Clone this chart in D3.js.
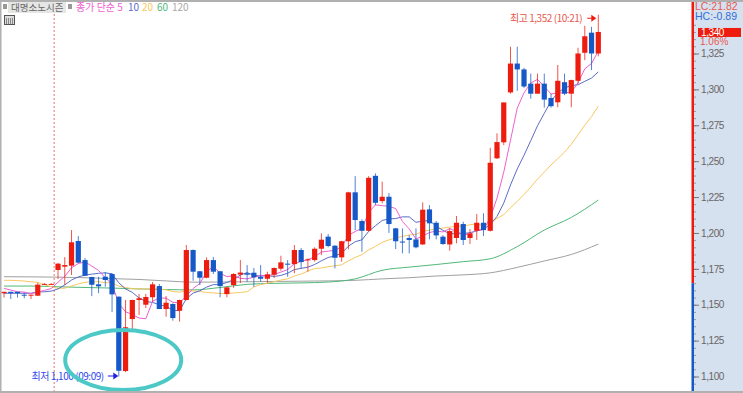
<!DOCTYPE html>
<html>
<head>
<meta charset="utf-8">
<style>
    html, body { margin: 0; padding: 0; background: #fff; }
    svg { display: block; }
    text { font-family: "Noto Sans CJK KR", "Noto Sans", sans-serif; }
    .axis text, text.axis { font-family: "Liberation Sans", sans-serif; }
</style>
<script src="https://cdn.jsdelivr.net/npm/d3@7"></script>
</head>
<body>
<svg id="chart" width="743" height="393"></svg>
<script>
let candleOpen = [1158,1159,1159,1157,1156.5,1156.3,1164,1164,1174.2,1176.5,1177.2,1194.4,1181.1,1169.3,1164.2,1169.5,1171.4,1155.6,1103.8,1140,1153.3,1150,1155.2,1163,1147,1150.5,1145.8,1153.3,1188.1,1173.3,1168.8,1181.1,1173.3,1157.4,1163.7,1171,1171.9,1172.3,1169.5,1168.1,1170.9,1175.1,1178.6,1178.3,1188.1,1180.9,1181.1,1189,1197.4,1191.1,1183,1194.2,1228.3,1208.3,1201.5,1239.8,1222.2,1225.2,1203.2,1194,1196.5,1195.5,1192,1216.4,1207.1,1197.4,1192,1196.5,1206.2,1196.5,1201.5,1207.1,1201.5,1252,1263.1,1297.9,1318,1313.9,1304,1297,1304,1294,1291,1305,1297,1306,1325.5,1339.5,1325]
let candleClose = [1159,1158,1158,1156.5,1157,1164,1164.5,1164.5,1178.6,1177.6,1193.5,1179.3,1170.2,1163.9,1162.8,1167.2,1157.2,1104,1134.3,1153.3,1154.5,1155.4,1164.2,1147,1151.4,1140.7,1153.3,1188.1,1173,1168.8,1181.1,1173,1163,1162.1,1171.4,1172.4,1170.9,1169.1,1168.1,1171.2,1175.6,1179.5,1177.9,1188.1,1179.7,1181.6,1189,1195.3,1190.9,1182.7,1194.2,1228.3,1209,1201.5,1238.4,1221,1225.2,1206.2,1194.2,1193.5,1195.1,1190,1216.2,1206.7,1198.3,1192.3,1201.3,1207.1,1195.1,1199.7,1207.1,1202,1248.9,1263.3,1290.9,1318,1313.9,1302,1297,1304,1292.9,1288.3,1306,1297,1306.5,1325,1337,1325,1340]
let candleHigh = [1159,1159,1159,1158.4,1157,1165.3,1165,1165,1179,1183.2,1202,1197.8,1182.5,1169.5,1169.5,1172.8,1172,1155.8,1153.3,1153.5,1157.5,1157.5,1165.8,1164.4,1156,1151,1153.5,1191.6,1188.5,1173.5,1183,1183.2,1173.5,1162.5,1172,1181.1,1177.6,1175.6,1177.6,1173,1176,1184.1,1181.1,1191.6,1189.5,1182.3,1190,1199.7,1199.2,1191.5,1194.5,1228.7,1239.6,1209.5,1239.6,1241.5,1235.7,1227.8,1203.5,1203.2,1198.5,1203.2,1221.3,1219.4,1208.3,1198.5,1203.4,1211.8,1207.8,1202.7,1213.2,1213.7,1259.3,1269.4,1291,1329.7,1329.7,1315,1311,1311,1311,1297,1317,1311,1306.8,1329,1344.3,1343.6,1352]
let candleLow = [1155,1154,1155,1154.5,1154,1156,1164,1164,1167.9,1163.7,1170.7,1179,1170,1156,1158.1,1162.5,1145,1100,1103,1132.4,1142.8,1147.7,1152,1147,1141.6,1138.9,1138.2,1153,1166.7,1163.7,1168.5,1171.4,1155.2,1155.2,1161.8,1165.1,1166,1162.5,1166,1165.1,1168.6,1173.7,1169.5,1171.9,1175.3,1173,1180,1184.6,1190,1175.3,1180,1188.6,1202,1186.9,1201,1219.4,1220.6,1200,1188.8,1185.8,1185.8,1189.3,1191.6,1195.5,1195.5,1191.6,1187.6,1192.8,1191.6,1192.3,1195.1,1197.8,1201,1251.5,1261.2,1297,1299,1301,1293.5,1297,1287.3,1287.3,1287.5,1296,1287.5,1304,1320.4,1313.4,1323]

let ma5 = [1161.4,1160.2,1159,1158.8,1157.7,1158.7,1160,1161.3,1165.7,1169.8,1175.7,1178.7,1179.8,1176.9,1173.9,1168.7,1164.3,1150.8,1145.1,1143.2,1140.7,1140.3,1152.3,1154.9,1154.5,1151.7,1151.3,1156.1,1161.3,1164.8,1172.9,1176.8,1171.8,1169.6,1170.1,1168.4,1168,1169.2,1170.4,1170.3,1171,1172.7,1174.5,1178.5,1180.2,1181.4,1183.3,1186.7,1187.3,1187.9,1190.4,1198.3,1201,1203.1,1214.3,1219.6,1219,1218.5,1217,1208,1202.8,1195.8,1197.8,1200.3,1201.3,1200.7,1203,1201.1,1198.8,1199.1,1202.1,1202.2,1210.6,1224.2,1242.4,1264.6,1287,1297.6,1304.4,1307,1302,1296.8,1297.6,1297.6,1298.1,1304.6,1314.3,1318.1,1326.7]
let ma10 = [1158,1158,1158,1158,1158,1159,1159,1159.5,1161,1163.8,1167.2,1169.4,1170.6,1171.3,1171.9,1172.2,1171.5,1165.3,1161,1158.6,1154.7,1152.3,1151.6,1150,1148.9,1146.2,1145.8,1154.2,1158.1,1159.7,1162.3,1164,1164,1165.5,1167.5,1170.7,1172.4,1170.5,1170,1170.2,1169.7,1170.4,1171.9,1174.5,1175.3,1176.2,1178,1180.6,1182.9,1184,1185.9,1190.8,1193.9,1195.2,1201.1,1205,1208.7,1209.8,1210,1211.2,1211.2,1207.4,1208.2,1208.7,1204.7,1201.8,1199.4,1199.5,1199.6,1200.2,1201.4,1202.6,1205.9,1211.5,1220.8,1233.4,1244.6,1254.1,1264.3,1274.7,1283.3,1291.9,1297.6,1301,1302.6,1303.3,1305.6,1307.9,1312.2]
let ma20 = [1167,1167,1166.8,1166.5,1166,1165.5,1164,1162.5,1161.4,1161.5,1163,1164.5,1165.6,1166,1166,1165.5,1165,1163,1162,1161.2,1161,1160.9,1161.1,1160.7,1160.4,1159.2,1158.7,1159.8,1159.6,1159.2,1158.5,1158.2,1157.8,1157.8,1158.2,1158.5,1159.1,1162.4,1164,1165,1166,1167.2,1168,1170,1171.4,1173.5,1175.2,1175.6,1176.5,1177.1,1177.8,1180.6,1182.9,1184.9,1188.2,1190.6,1193.4,1195.2,1196.5,1197.6,1198.6,1199.1,1201,1202,1202.9,1203.4,1204,1204.7,1204.8,1205.7,1206.3,1205,1207,1210.1,1212.8,1217.6,1222,1226.8,1232,1237.5,1242.4,1247.3,1251.8,1256.3,1261.7,1268.4,1275.1,1281,1288.3]

// the slow averages were read every fourth candle
let slowIndex = [0,4,8,12,16,20,24,28,32,36,40,44,48,52,56,60,64,68,72,76,80,84,88]
let ma60 = [1163,1163,1162.5,1162,1161.6,1161,1160.6,1160.3,1162,1164.2,1164.9,1165.2,1165.8,1168,1174,1176.2,1178,1180,1182,1190.5,1202,1210.8,1222.9]
let ma120 = [1169.5,1169.4,1169.2,1168.8,1168.2,1167.6,1166.6,1165.7,1165.8,1166,1166.2,1166.4,1166.6,1167,1168,1168.8,1170,1170.8,1172.2,1176,1180.5,1185,1192.2]

let majorTicks = [1100,1125,1150,1175,1200,1225,1250,1275,1300,1325]
let minorTicks = d3.range(1095, 1355, 5)
let lastPrice = 1340
let prevClose = 1165
let highPrice = 1352
let lowPrice = 1100
let highIndex = 88
let lowIndex = 17
let sessionIndex = 7.43

let colors = {
    up: '#ee1c0e',
    down: '#1558c8',
    ma5: '#ee60d0',
    ma10: '#5a6cc8',
    ma20: '#f8c860',
    ma60: '#50b878',
    ma120: '#a0a0a0',
    panel: '#d6e1ef',
    frame: '#b0b0b0',
    circle: '#4cc9c6',
}
let legendItems = [
    {label: '종가 단순 5', color: colors.ma5, x: 76},
    {label: '10', color: colors.ma10, x: 128},
    {label: '20', color: colors.ma20, x: 142},
    {label: '60', color: colors.ma60, x: 157},
    {label: '120', color: '#a8a8a8', x: 172},
]

let svg = d3.select('#chart')
let width = +svg.attr('width')
let height = +svg.attr('height')
let panelLeft = 694

let x = d3.scaleLinear().domain([0, 88]).range([4, 598.3])
let y = d3.scaleLinear().domain([1100, 1325]).range([376.5, 53.5])

function drawCandles() {
    let g = svg.append('g').attr('class', 'candles')
    let candle = g.selectAll('g')
        .data(candleOpen.map((open, i) => ({
            i: i,
            open: open,
            close: candleClose[i],
            high: candleHigh[i],
            low: candleLow[i],
        })))
        .enter().append('g')
    let color = d => d.close >= d.open ? colors.up : colors.down

    candle.append('line')
        .attr('x1', d => x(d.i))
        .attr('x2', d => x(d.i))
        .attr('y1', d => y(d.high))
        .attr('y2', d => y(d.low))
        .attr('stroke', color)
        .attr('stroke-width', 1)
        .attr('stroke-opacity', 0.75)

    candle.append('rect')
        .attr('x', d => x(d.i) - 2.6)
        .attr('width', 5.2)
        .attr('y', d => Math.min(y(d.open), y(d.close)))
        .attr('height', d => Math.max(1, Math.abs(y(d.open) - y(d.close))))
        .attr('fill', color)
}

function drawAverages() {
    let line = d3.line()
        .x(d => x(d[0]))
        .y(d => y(d[1]))
    let slowLine = d3.line()
        .x(d => x(d[0]))
        .y(d => y(d[1]))
        .curve(d3.curveMonotoneX)
    let everyCandle = values => values.map((v, i) => [i, v])
    let everyFourth = values => values.map((v, i) => [slowIndex[i], v])
    let series = [
        {d: slowLine(everyFourth(ma120)), color: colors.ma120},
        {d: slowLine(everyFourth(ma60)), color: colors.ma60},
        {d: line(everyCandle(ma20)), color: colors.ma20},
        {d: line(everyCandle(ma10)), color: colors.ma10},
        {d: line(everyCandle(ma5)), color: colors.ma5},
    ]
    svg.append('g').selectAll('path')
        .data(series)
        .enter().append('path')
        .attr('d', d => d.d)
        .attr('fill', 'none')
        .attr('stroke', d => d.color)
        .attr('stroke-width', 1)
}

function drawAxis() {
    svg.append('rect')
        .attr('x', panelLeft)
        .attr('y', 0)
        .attr('width', width - panelLeft)
        .attr('height', height)
        .attr('fill', colors.panel)

    // strip left of the scale changes colour at the previous close
    svg.append('rect')
        .attr('x', panelLeft - 2.5)
        .attr('y', 0)
        .attr('width', 2.5)
        .attr('height', y(prevClose))
        .attr('fill', colors.up)
    svg.append('rect')
        .attr('x', panelLeft - 2.5)
        .attr('y', y(prevClose))
        .attr('width', 2.5)
        .attr('height', height - y(prevClose))
        .attr('fill', colors.down)

    let minor = d3.axisRight(y)
        .tickValues(minorTicks)
        .tickSize(2)
        .tickFormat('')
    svg.append('g')
        .attr('transform', 'translate(' + panelLeft + ',0)')
        .call(minor)
        .call(g => g.select('.domain').remove())
        .selectAll('line').attr('stroke', '#9a9a9a')

    let major = d3.axisRight(y)
        .tickValues(majorTicks)
        .tickSize(5)
        .tickPadding(2)
        .tickFormat(d3.format(','))
    svg.append('g')
        .attr('class', 'axis')
        .attr('transform', 'translate(' + panelLeft + ',0)')
        .call(major)
        .call(g => g.select('.domain').remove())
        .call(g => g.selectAll('line').attr('stroke', '#777'))
        .call(g => g.selectAll('text')
            .attr('font-size', 10)
            .attr('letter-spacing', -0.4)
            .attr('fill', '#666'))

    svg.append('rect')
        .attr('x', panelLeft)
        .attr('y', 0)
        .attr('width', width - panelLeft)
        .attr('height', 20)
        .attr('fill', colors.panel)
    svg.append('text')
        .attr('class', 'axis')
        .attr('x', panelLeft + 1)
        .attr('y', 10)
        .attr('font-size', 10.5)
        .attr('fill', '#e85a50')
        .text('LC:21.82')
    svg.append('text')
        .attr('class', 'axis')
        .attr('x', panelLeft + 1)
        .attr('y', 19.5)
        .attr('font-size', 10.5)
        .attr('fill', '#2f6fd8')
        .text('HC:-0.89')

    svg.append('rect')
        .attr('x', 698)
        .attr('y', y(lastPrice) - 4)
        .attr('width', 43)
        .attr('height', 9)
        .attr('fill', colors.up)
    svg.append('text')
        .attr('class', 'axis')
        .attr('x', 701)
        .attr('y', y(lastPrice) + 4)
        .attr('font-size', 10)
        .attr('letter-spacing', -0.4)
        .attr('fill', '#fff')
        .text(d3.format(',')(lastPrice))
    svg.append('text')
        .attr('class', 'axis')
        .attr('x', 700)
        .attr('y', y(lastPrice) + 13)
        .attr('font-size', 10)
        .attr('fill', '#e85a50')
        .text('1.06%')
}

function drawLegend() {
    svg.append('rect').attr('x', 8).attr('y', 2).attr('width', 58).attr('height', 11).attr('fill', '#e6e6e6')
    svg.selectAll('.marker')
        .data([3, 68])
        .enter().append('rect')
        .attr('class', 'marker')
        .attr('x', d => d)
        .attr('y', 4)
        .attr('width', 4)
        .attr('height', 5)
        .attr('fill', '#999')
    svg.append('text')
        .attr('x', 11)
        .attr('y', 11)
        .attr('font-size', 9.5)
        .attr('fill', '#666')
        .text('대명소노시즌')
    svg.selectAll('.legend')
        .data(legendItems)
        .enter().append('text')
        .attr('class', 'legend')
        .attr('x', d => d.x)
        .attr('y', 11)
        .attr('font-size', 10)
        .attr('fill', d => d.color)
        .text(d => d.label)

    // small table icon under the name
    let icon = svg.append('g').attr('transform', 'translate(4,15)')
    icon.append('rect')
        .attr('x', 0.5).attr('y', 0.5).attr('width', 10).attr('height', 9)
        .attr('fill', '#ddd').attr('stroke', '#555')
    icon.selectAll('line')
        .data([2.5, 4.5, 6.5, 8.5])
        .enter().append('line')
        .attr('x1', d => d).attr('x2', d => d)
        .attr('y1', 3).attr('y2', 9)
        .attr('stroke', '#888')
}

function drawArrow(x1, x2, yPos, color) {
    svg.append('line')
        .attr('x1', x1).attr('x2', x2 - 4)
        .attr('y1', yPos).attr('y2', yPos)
        .attr('stroke', color)
        .attr('stroke-width', 1)
    svg.append('path')
        .attr('d', d3.line()([[x2 - 5, yPos - 3.5], [x2, yPos], [x2 - 5, yPos + 3.5]]))
        .attr('fill', color)
}

function drawAnnotations() {
    let format = d3.format(',')
    svg.append('text')
        .attr('x', x(highIndex) - 16)
        .attr('y', y(highPrice) + 7)
        .attr('text-anchor', 'end')
        .attr('font-size', 10)
        .attr('letter-spacing', -0.45)
        .attr('fill', '#e8584e')
        .text('최고 ' + format(highPrice) + ' (10:21)')
    drawArrow(x(highIndex) - 11, x(highIndex) - 2, y(highPrice) + 3.5, colors.up)

    svg.append('text')
        .attr('x', x(lowIndex) - 15)
        .attr('y', y(lowPrice) + 3)
        .attr('text-anchor', 'end')
        .attr('font-size', 10)
        .attr('letter-spacing', -0.45)
        .attr('fill', '#3048f0')
        .text('최저 ' + format(lowPrice) + ' (09:09)')
    drawArrow(x(lowIndex) - 11, x(lowIndex) - 0.5, y(lowPrice) - 0.5, '#2020e0')

    svg.append('ellipse')
        .attr('cx', x(17.65))
        .attr('cy', y(1111.5))
        .attr('rx', 58)
        .attr('ry', 30)
        .attr('fill', 'none')
        .attr('stroke', colors.circle)
        .attr('stroke-width', 4)
}

function drawSessionLine() {
    svg.append('line')
        .attr('x1', x(sessionIndex)).attr('x2', x(sessionIndex))
        .attr('y1', 2).attr('y2', height - 2)
        .attr('stroke', '#ee6a6a')
        .attr('stroke-dasharray', '2,2')
}

function drawFrame() {
    svg.append('rect').attr('x', 0).attr('y', 0).attr('width', width).attr('height', 2).attr('fill', colors.frame)
    svg.append('rect').attr('x', 0).attr('y', 0).attr('width', 1.5).attr('height', height).attr('fill', colors.frame)
    svg.append('rect').attr('x', 0).attr('y', height - 2).attr('width', width).attr('height', 2).attr('fill', colors.frame)
}

drawSessionLine()
drawAverages()
drawCandles()
drawAxis()
drawLegend()
drawAnnotations()
drawFrame()
</script>
</body>
</html>
